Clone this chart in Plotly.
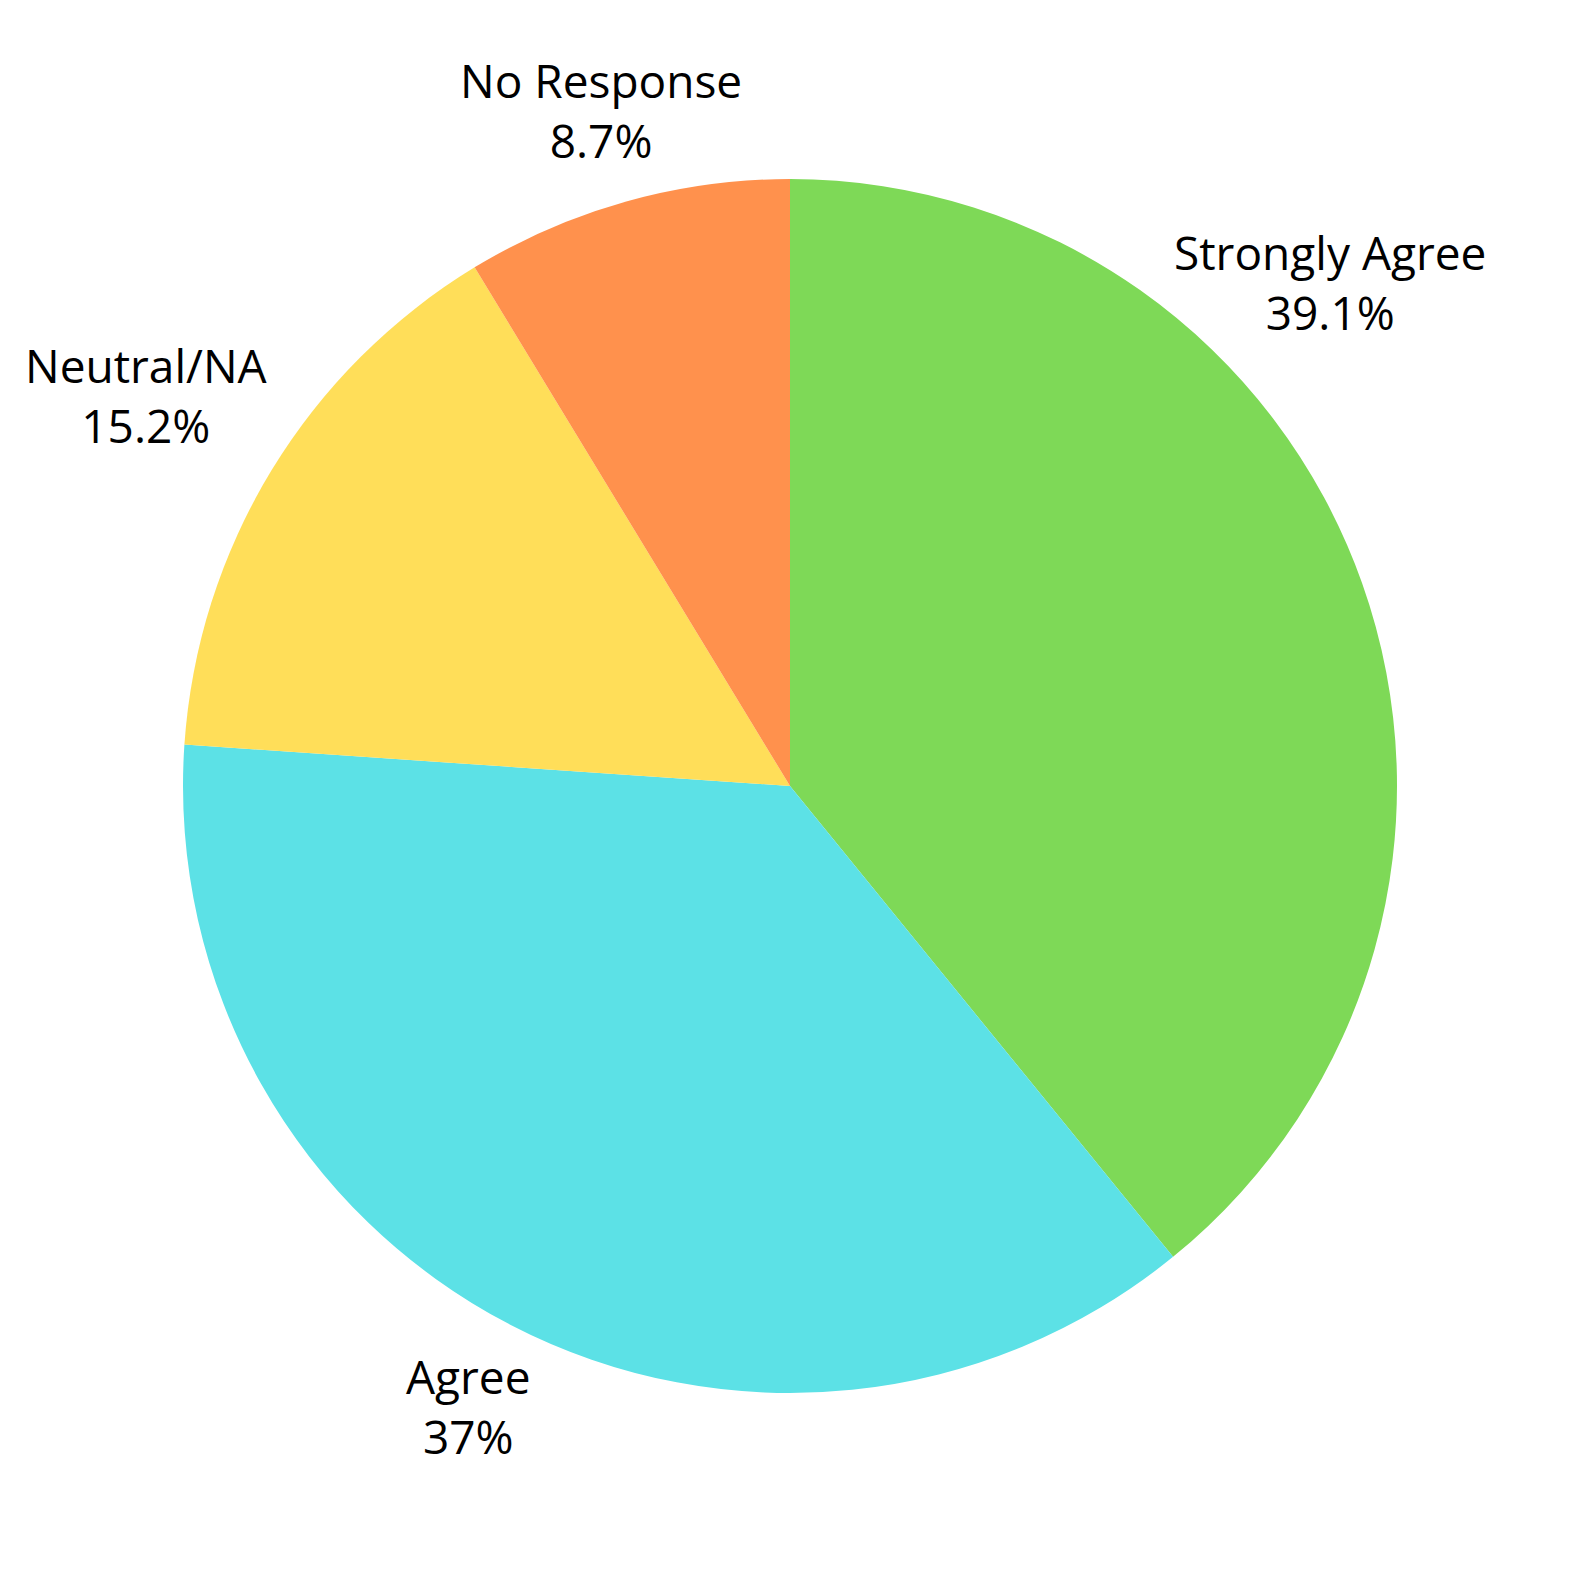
import math
import plotly.graph_objects as go

categories = ["Strongly Agree", "Agree", "Neutral/NA", "No Response"]
counts = [18, 17, 7, 4]
colors = ["#7ED957", "#5CE1E6", "#FFDE59", "#FF914D"]

# layout / style
W = H = 1580
CX, CY, R = 782, 778, 607  # pie centre and radius in px (figure coords)
label_dist = [1.217, 1.15, 1.24, 1.157]      # radial distance factor of label block
label_angle_override = {0: 47.0}             # label moved away from the edge (deg from top)
FONT = dict(family="Open Sans", size=46, color="#000000")

fig = go.Figure(go.Pie(
    labels=categories,
    values=counts,
    marker=dict(colors=colors, line=dict(width=0)),
    sort=False,
    direction="clockwise",
    rotation=0,
    textinfo="none",
    hoverinfo="label+percent",
    showlegend=False,
    domain=dict(x=[(CX - R) / W, (CX + R) / W],
                y=[1 - (CY + R) / H, 1 - (CY - R) / H]),
))

total = sum(counts)
cum = 0
annotations = []
for i, (cat, v) in enumerate(zip(categories, counts)):
    frac = v / total
    mid = (cum + frac / 2) * 360.0
    cum += frac
    ang = label_angle_override.get(i, mid)
    d = label_dist[i] * R
    px = CX + d * math.sin(math.radians(ang))
    py = CY - d * math.cos(math.radians(ang))
    pct = float(f"{frac * 100:.3g}")
    pct_txt = f"{pct:g}%"
    annotations.append(dict(
        x=px / W, y=1 - py / H, xref="paper", yref="paper",
        xanchor="center", yanchor="middle", showarrow=False,
        text=f"{cat}<br>{pct_txt}", font=FONT, align="center",
    ))

fig.update_layout(
    width=W, height=H,
    margin=dict(l=0, r=0, t=0, b=0),
    paper_bgcolor="white", plot_bgcolor="white",
    annotations=annotations,
)
fig.write_html("out.html")
